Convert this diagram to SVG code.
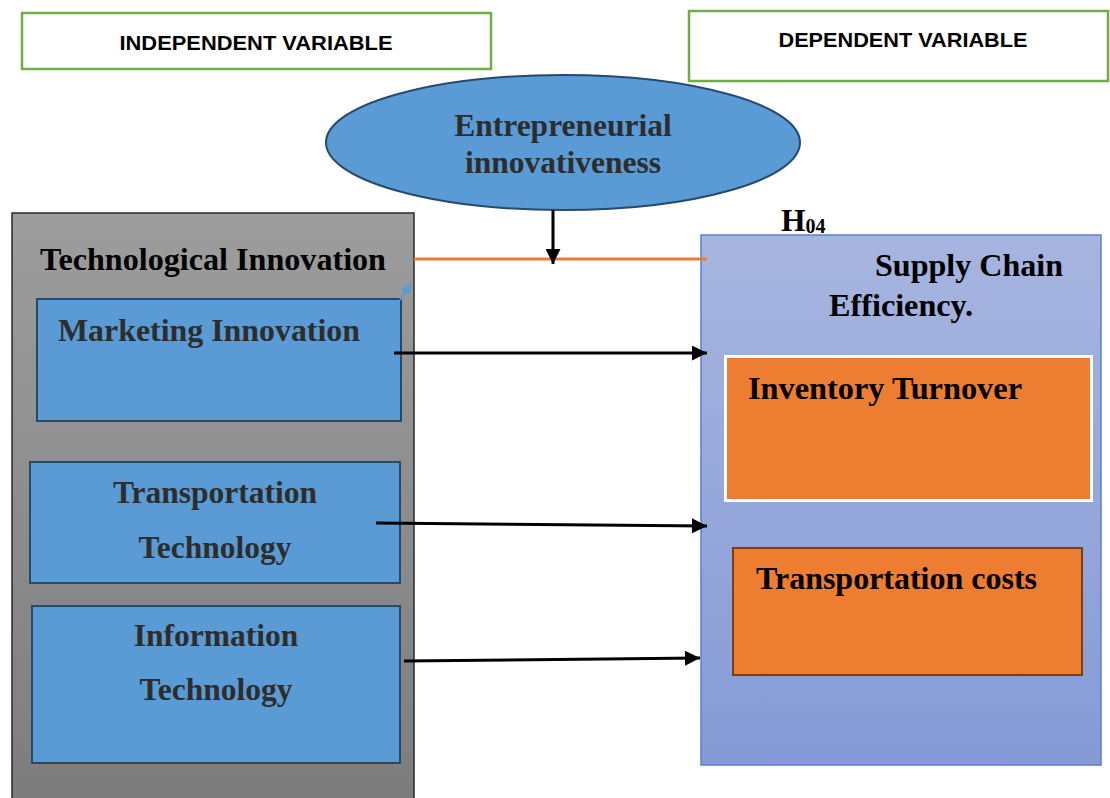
<svg xmlns="http://www.w3.org/2000/svg" width="1110" height="798" viewBox="0 0 1110 798">
  <defs>
    <linearGradient id="grayFill" x1="0" y1="0" x2="0" y2="1">
      <stop offset="0" stop-color="#9d9d9d"/>
      <stop offset="1" stop-color="#7c7c7c"/>
    </linearGradient>
    <linearGradient id="periwinkleFill" x1="0" y1="0" x2="0" y2="1">
      <stop offset="0" stop-color="#a7b5df"/>
      <stop offset="1" stop-color="#859ad6"/>
    </linearGradient>
    <marker id="arrowBlack" viewBox="0 0 10 10" refX="10" refY="5" markerWidth="6" markerHeight="5" markerUnits="strokeWidth" orient="auto">
      <path d="M0,0 L10,5 L0,10 z" fill="#000"/>
    </marker>
  </defs>
  <style>
    .hdr { fill: #ffffff; stroke: #70ad47; stroke-width: 2.5; }
    .hdrText { font-family: "Liberation Sans", Arial, sans-serif; font-weight: bold; font-size: 21px; fill: #000; }
    .serif { font-family: "Liberation Serif", "Times New Roman", serif; font-weight: bold; font-size: 31.5px; }
    .dark { fill: #2d2d2d; }
    .blk { fill: #000; }
    .blueBox { fill: #5b9bd5; stroke: #264a6c; stroke-width: 2; }
    .conn { stroke: #000; stroke-width: 3; fill: none; }
  </style>

  <rect width="1110" height="798" fill="#ffffff"/>

  <!-- header labels -->
  <g id="independent-header">
    <rect class="hdr" x="22" y="13" width="469" height="56"/>
    <text class="hdrText" x="256" y="50" text-anchor="middle" textLength="273" lengthAdjust="spacingAndGlyphs">INDEPENDENT VARIABLE</text>
  </g>
  <g id="dependent-header">
    <rect class="hdr" x="689" y="11" width="419" height="70"/>
    <text class="hdrText" x="903" y="47" text-anchor="middle" textLength="249" lengthAdjust="spacingAndGlyphs">DEPENDENT VARIABLE</text>
  </g>

  <!-- independent variable container -->
  <g id="technological-innovation">
    <rect x="12" y="213" width="402" height="600" fill="url(#grayFill)" stroke="#2a2a2a" stroke-width="1.5"/>
    <text class="serif blk" x="40" y="270" textLength="346" lengthAdjust="spacingAndGlyphs">Technological Innovation</text>
  </g>

  <g id="marketing-innovation">
    <rect class="blueBox" x="37" y="299" width="364" height="122"/>
    <text class="serif dark" x="58" y="341" textLength="302" lengthAdjust="spacingAndGlyphs">Marketing Innovation</text>
  </g>

  <g id="transportation-technology">
    <rect class="blueBox" x="30" y="462" width="370" height="121"/>
    <text class="serif dark" x="215" y="503" text-anchor="middle">Transportation</text>
    <text class="serif dark" x="215" y="558" text-anchor="middle">Technology</text>
  </g>

  <g id="information-technology">
    <rect class="blueBox" x="32" y="606" width="368" height="157"/>
    <text class="serif dark" x="216" y="646" text-anchor="middle">Information</text>
    <text class="serif dark" x="216" y="700" text-anchor="middle">Technology</text>
  </g>

  <!-- moderator -->
  <g id="entrepreneurial-innovativeness">
    <ellipse cx="563" cy="142.5" rx="237" ry="67.5" fill="#5b9bd5" stroke="#264a6c" stroke-width="2"/>
    <text class="serif dark" x="563" y="136" text-anchor="middle">Entrepreneurial</text>
    <text class="serif dark" x="563" y="173" text-anchor="middle">innovativeness</text>
  </g>

  <!-- dependent variable container -->
  <g id="supply-chain-efficiency">
    <rect x="701" y="235" width="400" height="530" fill="url(#periwinkleFill)" stroke="#5b7fcf" stroke-width="1.5"/>
    <text class="serif blk" x="875" y="276" textLength="188" lengthAdjust="spacingAndGlyphs">Supply Chain</text>
    <text class="serif blk" x="829" y="316" textLength="144" lengthAdjust="spacingAndGlyphs">Efficiency.</text>
  </g>

  <g id="inventory-turnover">
    <rect x="725.5" y="356.5" width="366" height="144" fill="#ed7d31" stroke="#ffffff" stroke-width="3"/>
    <text class="serif blk" x="748" y="399" textLength="274" lengthAdjust="spacingAndGlyphs">Inventory Turnover</text>
  </g>

  <g id="transportation-costs">
    <rect x="733" y="548" width="349" height="127" fill="#ed7d31" stroke="#843c0c" stroke-width="2"/>
    <text class="serif blk" x="756" y="589" textLength="281" lengthAdjust="spacingAndGlyphs">Transportation costs</text>
  </g>

  <g id="hypothesis-label">
    <text class="serif blk" x="781" y="231" font-size="28">H<tspan font-size="20" dy="2">04</tspan></text>
  </g>

  <!-- connectors -->
  <g id="connectors">
    <line x1="414" y1="259" x2="707" y2="259" stroke="#ed7d31" stroke-width="3"/>
    <line class="conn" x1="553" y1="210" x2="553" y2="264" marker-end="url(#arrowBlack)"/>
    <line class="conn" x1="394" y1="353" x2="707" y2="353" marker-end="url(#arrowBlack)"/>
    <line class="conn" x1="376" y1="523" x2="707" y2="526" marker-end="url(#arrowBlack)"/>
    <line class="conn" x1="404" y1="661" x2="700" y2="658" marker-end="url(#arrowBlack)"/>
    <!-- short blue pointer at the corner of the marketing box -->
    <line x1="400" y1="300" x2="405.5" y2="292" stroke="#5b9bd5" stroke-width="2"/>
    <path d="M412,282 L409.6,294.8 L401.2,289.3 z" fill="#5b9bd5"/>
  </g>
</svg>
